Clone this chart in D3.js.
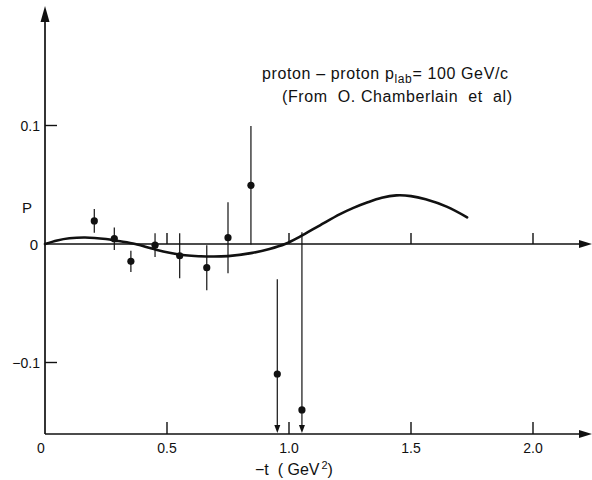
<!DOCTYPE html>
<html>
<head>
<meta charset="utf-8">
<script src="https://cdn.jsdelivr.net/npm/d3@7"></script>
<style>
  html, body { margin: 0; padding: 0; background: #fff; }
  svg { display: block; }
  text { font-family: "Liberation Sans", Arial, sans-serif; fill: #111; }
</style>
</head>
<body>
<div id="chart"></div>
<script>
// measured points: -t, polarisation P, error
var tVals   = [0.202, 0.284, 0.352, 0.451, 0.552, 0.663, 0.750, 0.844, 0.952, 1.053];
var pVals   = [0.0195, 0.0045, -0.0146, -0.001, -0.0099, -0.020, 0.0053, 0.0495, -0.1097, -0.140];
var errVals = [0.010, 0.0095, 0.009, 0.010, 0.019, 0.019, 0.030, 0.050, 0.080, 0.150];

// theory curve
var curveT = [0, 0.05, 0.10, 0.164, 0.25, 0.30, 0.37, 0.45, 0.55, 0.66, 0.75, 0.85, 0.92, 0.984,
              1.045, 1.127, 1.209, 1.264, 1.32, 1.38, 1.44, 1.50, 1.56, 1.646, 1.73];
var curveP = [0, 0.003, 0.0048, 0.0055, 0.0042, 0.0025, 0, -0.0045, -0.0088, -0.0105, -0.0102, -0.0075, -0.0042, 0,
              0.0062, 0.0158, 0.0252, 0.0305, 0.0350, 0.0390, 0.0410, 0.0404, 0.0377, 0.0315, 0.0225];

var xTicks = [0.5, 1.0, 1.5, 2.0];
var xLabelVals = [0, 0.5, 1.0, 1.5, 2.0];
var xLabels = ["0", "0.5", "1.0", "1.5", "2.0"];
var yTicks = [0.1, -0.1];
var yLabels = ["0.1", "\u22120.1"];

var W = 592, H = 480;
var svg = d3.select("#chart").append("svg").attr("width", W).attr("height", H);

var x = d3.scaleLinear().domain([0, 1]).range([45, 289]);
var y = d3.scaleLinear().domain([0, 0.1]).range([244, 125.5]);
var yBottom = 434, xRight = 592, yTop = 6;
var pMin = y.invert(yBottom);

var ink = "#111";

// y axis with arrow
svg.append("line").attr("x1", x(0)).attr("x2", x(0)).attr("y1", yBottom).attr("y2", yTop + 10)
  .attr("stroke", ink).attr("stroke-width", 1.7);
svg.append("path").attr("d", "M" + x(0) + "," + yTop + "L" + (x(0) - 4.5) + "," + (yTop + 16) + "L" + (x(0) + 4.5) + "," + (yTop + 16) + "Z")
  .attr("fill", ink);

// y ticks + labels
svg.selectAll("line.ytick").data(yTicks).enter().append("line")
  .attr("class", "ytick")
  .attr("x1", x(0)).attr("x2", x(0) + 12)
  .attr("y1", function(d){ return y(d); }).attr("y2", function(d){ return y(d); })
  .attr("stroke", ink).attr("stroke-width", 1.4);
svg.selectAll("text.ylab").data(yTicks).enter().append("text")
  .attr("class", "ylab")
  .attr("x", 40).attr("y", function(d){ return y(d) + 5; })
  .attr("text-anchor", "end").attr("font-size", 14)
  .text(function(d, i){ return yLabels[i]; });
svg.append("text").attr("x", 38).attr("y", y(0) + 6).attr("text-anchor", "end")
  .attr("font-size", 15).text("0");
svg.append("text").attr("x", 27).attr("y", 213).attr("text-anchor", "middle")
  .attr("font-size", 15).text("P");

// horizontal axes (P = 0 line and bottom axis) with arrows
function hAxis(yy, tickLen) {
  svg.append("line").attr("x1", x(0)).attr("x2", xRight - 8).attr("y1", yy).attr("y2", yy)
    .attr("stroke", ink).attr("stroke-width", 1.7);
  svg.append("path").attr("d", "M" + xRight + "," + yy + "L" + (xRight - 13) + "," + (yy - 4) + "L" + (xRight - 13) + "," + (yy + 4) + "Z")
    .attr("fill", ink);
  svg.append("g").selectAll("line").data(xTicks).enter().append("line")
    .attr("x1", function(d){ return x(d); }).attr("x2", function(d){ return x(d); })
    .attr("y1", yy).attr("y2", yy - tickLen)
    .attr("stroke", ink).attr("stroke-width", 1.4);
}
hAxis(y(0), 11);
hAxis(yBottom, 12);

svg.selectAll("text.xlab").data(xLabelVals).enter().append("text")
  .attr("class", "xlab")
  .attr("x", function(d){ return d === 0 ? x(d) - 4 : x(d); })
  .attr("y", 453).attr("text-anchor", "middle").attr("font-size", 14)
  .text(function(d, i){ return xLabels[i]; });

var xt = svg.append("text").attr("x", 255).attr("y", 475).attr("font-size", 16);
xt.append("tspan").text("\u2212t\u00a0\u00a0(\u00a0GeV");
xt.append("tspan").attr("dy", -6).attr("font-size", 11).attr("dx", 2).text("2");
xt.append("tspan").attr("dy", 6).text(")");

// title
var t1 = svg.append("text").attr("x", 262).attr("y", 79).attr("font-size", 16)
  .attr("textLength", 246).attr("lengthAdjust", "spacing");
t1.append("tspan").text("proton \u2013 proton p");
t1.append("tspan").attr("dy", 4).attr("font-size", 12).text("lab");
t1.append("tspan").attr("dy", -4).text("= 100 GeV/c");
svg.append("text").attr("x", 282).attr("y", 102).attr("font-size", 16)
  .attr("textLength", 230).attr("lengthAdjust", "spacing")
  .text("(From\u00a0 O. Chamberlain\u00a0 et\u00a0 al)");

// theory curve
var line = d3.line()
  .x(function(d){ return x(d[0]); })
  .y(function(d){ return y(d[1]); })
  .curve(d3.curveCatmullRom.alpha(0.5));
svg.append("path").datum(d3.zip(curveT, curveP))
  .attr("d", line).attr("fill", "none").attr("stroke", ink).attr("stroke-width", 2.6)
  .attr("stroke-linecap", "round");

// error bars
var pts = tVals.map(function(t, i){ return {t: t, p: pVals[i], e: errVals[i]}; });
svg.selectAll("line.err").data(pts).enter().append("line")
  .attr("class", "err")
  .attr("x1", function(d){ return x(d.t); }).attr("x2", function(d){ return x(d.t); })
  .attr("y1", function(d){ return y(d.p + d.e); })
  .attr("y2", function(d){ return d.p - d.e < pMin ? yBottom - 6 : y(d.p - d.e); })
  .attr("stroke", ink).attr("stroke-width", 1.2);
svg.selectAll("path.arr").data(pts.filter(function(d){ return d.p - d.e < pMin; })).enter().append("path")
  .attr("class", "arr")
  .attr("d", function(d){
    var cx = x(d.t);
    return "M" + cx + "," + (yBottom - 1) + "L" + (cx - 3) + "," + (yBottom - 9) + "L" + (cx + 3) + "," + (yBottom - 9) + "Z";
  })
  .attr("fill", ink);

// points
svg.selectAll("circle.pt").data(pts).enter().append("circle")
  .attr("class", "pt")
  .attr("cx", function(d){ return x(d.t); })
  .attr("cy", function(d){ return y(d.p); })
  .attr("r", 3.6).attr("fill", ink);
</script>
</body>
</html>
